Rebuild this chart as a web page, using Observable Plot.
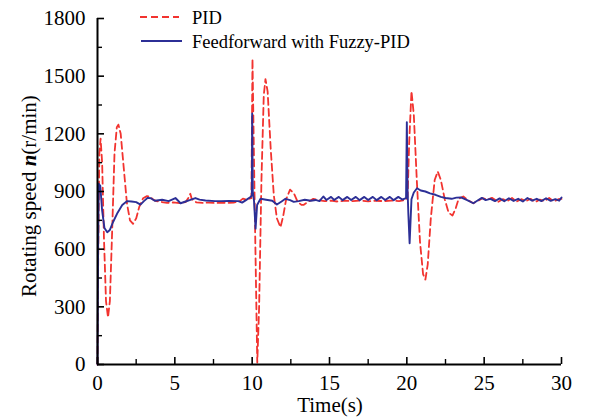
<!DOCTYPE html>
<html>
<head>
<meta charset="utf-8">
<script src="https://cdn.jsdelivr.net/npm/d3@7"></script>
<script src="https://cdn.jsdelivr.net/npm/@observablehq/plot@0.6"></script>
<style>
  html, body { margin: 0; padding: 0; background: #ffffff; }
  #chart { position: relative; width: 592px; height: 420px; }
</style>
</head>
<body>
<div id="chart"></div>
<script>
// ---- Data ----
const pidTime = [0, 0.05, 0.12, 0.2, 0.3, 0.42, 0.55, 0.68, 0.8, 0.95, 1.1, 1.25, 1.35, 1.5, 1.7, 1.9, 2.1, 2.3, 2.5, 2.7, 2.95, 3.2, 3.4, 3.6, 3.8, 4.1, 4.5, 4.9, 5.3, 5.7, 5.9, 6.0, 6.1, 6.4, 6.8, 7.2, 7.6, 8.0, 8.4, 8.8, 9.2, 9.4, 9.6, 9.8, 9.95,
  10.02, 10.15, 10.33, 10.45, 10.6, 10.75, 10.86, 11.0, 11.2, 11.4, 11.6, 11.83, 12.0, 12.2, 12.45, 12.7, 12.95, 13.2, 13.34, 13.6, 13.95, 14.3, 14.7, 15.1, 15.5, 16, 16.5, 17, 17.5, 18, 18.5, 19, 19.5, 19.9, 20.05,
  20.15, 20.3, 20.45, 20.65, 20.85, 21.05, 21.2, 21.35, 21.55, 21.8, 22.0, 22.2, 22.45, 22.7, 22.95, 23.15, 23.35, 23.65, 23.95, 24.3, 24.6, 24.9, 25.2, 25.5, 25.9, 26.2, 26.5, 26.8, 27.1, 27.4, 27.7, 28.0, 28.3, 28.6, 28.9, 29.2, 29.5, 29.8, 30];
const pidSpeed = [0, 600, 1100, 1175, 1050, 650, 330, 245, 330, 700, 1100, 1235, 1248, 1200, 1020, 840, 750, 732, 760, 820, 865, 876, 872, 858, 850, 846, 841, 843, 840, 845, 870, 888, 860, 843, 841, 842, 840, 842, 841, 842, 850, 863, 858, 862, 865,
  1590, 900, 10, 300, 960, 1400, 1485, 1420, 1120, 880, 760, 714, 770, 860, 910, 890, 845, 830, 831, 845, 862, 855, 850, 852, 848, 852, 850, 853, 849, 852, 850, 853, 850, 855, 870,
  1150, 1422, 1300, 950, 640, 470, 442, 520, 760, 960, 1004, 960, 860, 790, 775, 810, 862, 874, 855, 839, 852, 865, 858, 867, 846, 860, 850, 866, 848, 860, 850, 862, 845, 858, 850, 866, 848, 860, 862];

const ffTime = [0, 0.04, 0.08, 0.18, 0.3, 0.45, 0.63, 0.8, 1.0, 1.3, 1.6, 1.92, 2.2, 2.5, 2.78, 3.0, 3.25, 3.45, 3.7, 4.18, 4.6, 5.04, 5.37, 5.7, 6.0, 6.33, 6.6, 6.98, 7.6, 8.0, 8.5, 9.1, 9.35, 9.6, 9.89, 9.98,
  10.0, 10.04, 10.12, 10.22, 10.32, 10.54, 10.9, 11.3, 11.6, 11.9, 12.15, 12.45, 12.69, 13.0, 13.4, 13.8, 14.1, 14.35, 14.6, 14.8, 15.1, 15.3, 15.6, 15.85, 16.15, 16.4, 16.7, 16.95, 17.25, 17.5, 17.8, 18.05, 18.35, 18.6, 18.9, 19.15, 19.45, 19.7, 19.95,
  20.0, 20.05, 20.1, 20.18, 20.3, 20.45, 20.66, 20.9, 21.2, 21.5, 21.85, 22.2, 22.5, 22.9, 23.2, 23.5, 23.9, 24.3, 24.55, 24.85, 25.1, 25.4, 25.7, 26.0, 26.3, 26.6, 26.9, 27.2, 27.5, 27.8, 28.1, 28.4, 28.7, 29.0, 29.3, 29.6, 29.85, 30];
const ffSpeed = [0, 600, 940, 930, 800, 710, 688, 700, 740, 790, 830, 850, 848, 845, 832, 850, 867, 865, 852, 857, 850, 866, 839, 848, 856, 866, 858, 853, 850, 850, 851, 850, 842, 855, 871, 880,
  1306, 900, 850, 707, 830, 862, 857, 852, 832, 848, 862, 855, 846, 850, 857, 852, 856, 850, 874, 856, 872, 856, 872, 855, 872, 856, 872, 855, 872, 856, 872, 855, 872, 856, 872, 855, 872, 858, 866,
  1261, 900, 780, 631, 860, 895, 917, 905, 900, 890, 883, 872, 866, 862, 868, 869, 855, 839, 852, 867, 855, 862, 850, 864, 849, 865, 851, 862, 848, 866, 852, 862, 850, 865, 851, 860, 852, 869];

const yTicks = [0, 300, 600, 900, 1200, 1500, 1800];
const yMinor = [150, 450, 750, 1050, 1350, 1650];
const xTicks = [0, 5, 10, 15, 20, 25, 30];
const xMinor = [2.5, 7.5, 12.5, 17.5, 22.5, 27.5];
const seriesNames = ["PID", "Feedforward with Fuzzy-PID"];
const xLabel = "Time(s)";

// ---- Build ----
const pid = pidTime.map((t, i) => ({t, v: pidSpeed[i]}));
const ff = ffTime.map((t, i) => ({t, v: ffSpeed[i]}));

const W = 592, H = 420;
const mL = 97, mR = 31, mT = 18, mB = 56;
const plotW = W - mL - mR, plotH = H - mT - mB;
const RED = "#f2332f", BLUE = "#2c2f96";
const FONT = "'Liberation Serif', 'Times New Roman', serif";

const chart = Plot.plot({
  width: W, height: H,
  marginLeft: mL, marginRight: mR, marginTop: mT, marginBottom: mB,
  x: {domain: [0, 30], axis: null},
  y: {domain: [0, 1800], axis: null},
  style: {background: "transparent", fontFamily: FONT, color: "black"},
  marks: [
    Plot.line(pid, {x: "t", y: "v", stroke: RED, strokeWidth: 1.8, strokeDasharray: "7,4"}),
    Plot.line(ff, {x: "t", y: "v", stroke: BLUE, strokeWidth: 1.9}),
    Plot.ruleY(yTicks, {insetRight: plotW - 7, stroke: "black", strokeWidth: 1.6}),
    Plot.ruleY(yMinor, {insetRight: plotW - 5, stroke: "black", strokeWidth: 1.4}),
    Plot.ruleX(xTicks, {insetTop: plotH - 7, stroke: "black", strokeWidth: 1.6}),
    Plot.ruleX(xMinor, {insetTop: plotH - 5, stroke: "black", strokeWidth: 1.4}),
    Plot.ruleX([0], {stroke: "black", strokeWidth: 2}),
    Plot.ruleY([0], {stroke: "black", strokeWidth: 2}),
    Plot.axisY(yTicks, {tickSize: 0, tickPadding: 12, fontSize: 21, label: null, fill: "black", tickFormat: d => String(d)}),
    Plot.axisX(xTicks, {tickSize: 0, tickPadding: 11, fontSize: 21, label: null, fill: "black", tickFormat: d => String(d)})
  ]
});

const svg = d3.select(chart);
// y axis label with italic bold n
const yl = svg.append("text")
  .attr("transform", "translate(36,297) rotate(-90)")
  .attr("text-anchor", "start")
  .attr("font-family", FONT).attr("font-size", 21).attr("fill", "black");
yl.append("tspan").text("Rotating speed ");
yl.append("tspan").attr("font-style", "italic").attr("font-weight", "bold").text("n");
yl.append("tspan").text("(r/min)");

// x axis label
svg.append("text")
  .attr("x", 330).attr("y", 412)
  .attr("text-anchor", "middle")
  .attr("font-family", FONT).attr("font-size", 21).attr("fill", "black")
  .text(xLabel);

// legend
const lg = svg.append("g").attr("text-anchor", "start");
lg.append("line").attr("x1", 140).attr("x2", 179).attr("y1", 17).attr("y2", 17)
  .attr("stroke", RED).attr("stroke-width", 1.8).attr("stroke-dasharray", "7,4");
lg.append("line").attr("x1", 141).attr("x2", 182).attr("y1", 41).attr("y2", 41)
  .attr("stroke", BLUE).attr("stroke-width", 1.9);
lg.append("text").attr("x", 192).attr("y", 24).attr("text-anchor", "start")
  .attr("font-family", FONT).attr("font-size", 18.5).attr("fill", "black").text(seriesNames[0]);
lg.append("text").attr("x", 192).attr("y", 48).attr("text-anchor", "start")
  .attr("font-family", FONT).attr("font-size", 18.5).attr("fill", "black").text(seriesNames[1]);

document.getElementById("chart").appendChild(chart);
</script>
</body>
</html>
